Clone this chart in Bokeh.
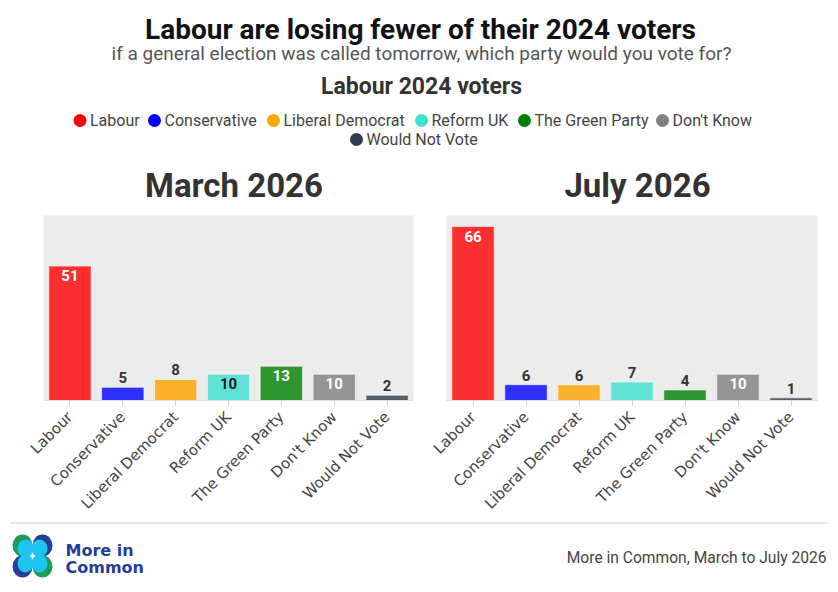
import math
from bokeh.plotting import figure
from bokeh.models import ColumnDataSource, Range1d, FactorRange
from bokeh.layouts import column, row
from bokeh.embed import file_html
from bokeh.resources import INLINE
from bokeh.core.properties import value

# ---------------- data ----------------
parties = ["Labour", "Conservative", "Liberal Democrat", "Reform UK",
           "The Green Party", "Don't Know", "Would Not Vote"]
march_2026 = [51, 5, 8, 10, 13, 10, 2]
july_2026 = [66, 6, 6, 7, 4, 10, 1]
panel_titles = ["March 2026", "July 2026"]
party_colors = ["#ff0000", "#0000ff", "#ffa500", "#40e0d0", "#008000", "#808080", "#2c3e50"]
inside_label_colors = ["#ffffff", "#ffffff", "#ffffff", "#1a1a1a", "#ffffff", "#ffffff", "#ffffff"]

title_text = "Labour are losing fewer of their 2024 voters"
subtitle_text = "if a general election was called tomorrow, which party would you vote for?"
group_text = "Labour 2024 voters"
source_text = "More in Common, March to July 2026"

TITLE_FONT = "Roboto"
AXIS_FONT = "DejaVu Sans"
W = 838


def blank_fig(w, h):
    f = figure(width=w, height=h, x_range=Range1d(0, w), y_range=Range1d(0, h),
               output_backend="svg", toolbar_location=None, min_border=0)
    f.axis.visible = False
    f.grid.visible = False
    f.outline_line_color = None
    f.background_fill_color = "white"
    f.border_fill_color = "white"
    return f


def htext(fig, x, y, txt, size, color, style="normal", align="center", font=TITLE_FONT,
          baseline="middle"):
    fig.text(x=[x], y=[y], text=[txt], text_font=value(font), text_font_size=size,
             text_color=color, text_font_style=style, text_align=align,
             text_baseline=baseline)


# ---------------- header ----------------
HH = 215
header = blank_fig(W, HH)
htext(header, 420, 186, title_text, "28px", "#111111", "bold")
htext(header, 421, 162, subtitle_text, "19px", "#555555")
htext(header, 421, 129, group_text, "23px", "#333333", "bold")

legend_x = [79.5, 154, 273, 421, 524, 662, 356]
legend_y = [95, 95, 95, 95, 95, 95, 76]
header.scatter(x=legend_x, y=legend_y, size=13, color=party_colors, line_color=None)
header.text(x=[lx + 10 for lx in legend_x], y=legend_y, text=parties,
            text_font=value(TITLE_FONT), text_font_size="16px", text_color="#444444",
            text_align="left", text_baseline="middle")

panel_title_x = [233.5, 637]
for tx, tt in zip(panel_title_x, panel_titles):
    htext(header, tx, 30, tt, "33px", "#333333", "bold")


# ---------------- charts ----------------
def make_chart(vals, left, right):
    p = figure(width=419, height=306, x_range=FactorRange(*parties, range_padding=0),
               y_range=Range1d(0, 70.2), output_backend="svg", toolbar_location=None,
               min_border_left=left, min_border_right=right, min_border_top=0,
               min_border_bottom=121)
    p.background_fill_color = "#ececec"
    p.border_fill_color = "white"
    p.outline_line_color = None
    p.grid.visible = False
    p.yaxis.visible = False
    src = ColumnDataSource(dict(party=parties, val=vals, color=party_colors))
    p.vbar(x="party", top="val", width=0.8, source=src, fill_color="color",
           fill_alpha=0.8, line_color="white", line_alpha=0.6, line_width=1)

    ins = [(pa, v, c) for pa, v, c in zip(parties, vals, inside_label_colors) if v >= 10]
    out = [(pa, v) for pa, v in zip(parties, vals) if v < 10]
    if ins:
        p.text(x=[a[0] for a in ins], y=[a[1] for a in ins], text=[str(a[1]) for a in ins],
               text_color=[a[2] for a in ins], text_font=value(TITLE_FONT),
               text_font_size="15px", text_font_style="bold", text_align="center",
               text_baseline="top", y_offset=4)
    if out:
        p.text(x=[a[0] for a in out], y=[a[1] for a in out], text=[str(a[1]) for a in out],
               text_color="#333333", text_font=value(TITLE_FONT),
               text_font_size="15px", text_font_style="bold", text_align="center",
               text_baseline="bottom", y_offset=-4)

    ax = p.xaxis
    ax.major_label_orientation = math.pi / 4
    ax.major_label_text_font = AXIS_FONT
    ax.major_label_text_font_size = "15px"
    ax.major_label_text_color = "#444444"
    ax.axis_line_color = "#dddddd"
    ax.major_tick_line_color = "#cccccc"
    ax.major_tick_out = 5
    ax.major_tick_in = 0
    ax.minor_tick_line_color = None
    ax.major_label_standoff = 9
    return p


march = make_chart(march_2026, 43, 6)
july = make_chart(july_2026, 27, 21)

# ---------------- footer ----------------
FH = 71
footer = blank_fig(W, FH)
footer.line(x=[10, 828], y=[69.5, 69.5], line_color="#e6e6e6", line_width=2)
# logo lobes
lobe_x = [22, 42, 22, 42]
lobe_y = [47, 47, 26, 26]
lobe_c = ["#1a9e57", "#233f98", "#233f98", "#1a9e57"]
footer.ellipse(x=lobe_x, y=lobe_y, width=20, height=22, fill_color=lobe_c, line_color=None)
cy_x = [25, 39, 25, 39]
cy_y = [44, 44, 29, 29]
footer.ellipse(x=cy_x, y=cy_y, width=16, height=18, fill_color="#1ec4ef", line_color=None)
htext(footer, 65, 42, "More in", "16px", "#1f3d99", "bold", align="left", font="DejaVu Sans")
htext(footer, 65, 25, "Common", "16px", "#1f3d99", "bold", align="left", font="DejaVu Sans")
htext(footer, 826, 35, source_text, "15.6px", "#444444", align="right")

layout = column(header, row(march, july), footer)
open("out.html", "w").write(file_html(layout, INLINE))
